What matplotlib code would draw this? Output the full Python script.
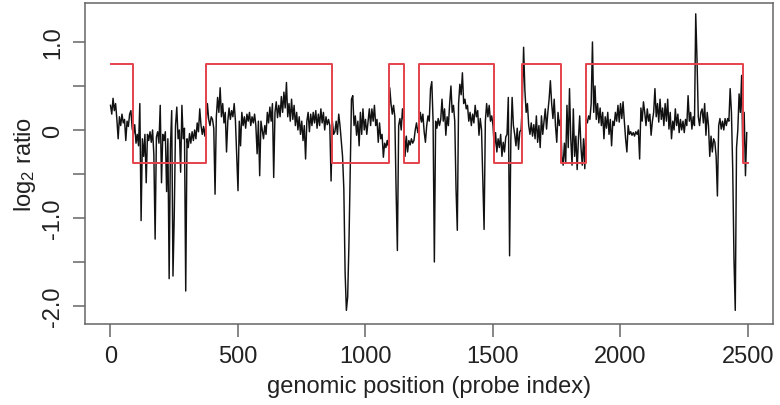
import numpy as np
import matplotlib
matplotlib.use("Agg")
import matplotlib.pyplot as plt

plt.rcParams["font.family"] = ["Liberation Sans", "DejaVu Sans"]
plt.rcParams["mathtext.default"] = "regular"

# log2 ratio per probe, sampled every 5 probes (probe 1, 6, 11, ...)
log2_ratio = [
    0.28, 0.18, 0.36, 0.22, 0.30, 0.12, -0.10, 0.15, 0.05, 0.18, 0.08, 0.12, -0.12, 0.10, 0.04, 0.18, 0.22, 0.02, -0.05, 0.06,
    -0.15, -0.05, -0.18, 0.30, -1.03, -0.10, -0.30, -0.05, -0.60, -0.05, -0.12, -0.02, -0.14, 0.00, -0.28, -1.24, -0.08, -0.02, -0.15, 0.28,
    -0.60, -0.05, -0.12, -0.02, -0.70, -0.10, -1.69, -0.20, 0.22, -1.66, -0.97, 0.05, 0.26, -0.10, 0.00, -0.48, 0.28, -0.10, 0.02, -1.83,
    -0.10, -0.20, -0.04, -0.15, -0.02, -0.12, 0.00, -0.10, 0.08, -0.02, 0.24, 0.05, -0.05, 0.04, -0.07, 0.08, 0.30, 0.12, 0.05, 0.15,
    0.12, 0.02, -0.73, 0.15, 0.37, 0.20, 0.48, 0.15, 0.30, 0.08, 0.20, -0.25, 0.10, 0.25, 0.12, 0.22, 0.15, 0.30, 0.10, -0.30,
    -0.69, 0.10, -0.18, 0.20, 0.05, 0.15, 0.02, 0.18, 0.10, 0.20, 0.05, 0.15, 0.08, 0.18, 0.05, -0.27, 0.10, -0.52, 0.10, 0.00,
    -0.10, 0.05, -0.05, 0.20, 0.08, 0.26, 0.10, 0.30, -0.54, 0.20, 0.32, 0.14, 0.28, 0.15, 0.38, 0.20, 0.43, 0.25, 0.54, 0.15,
    0.30, 0.10, 0.35, 0.12, 0.28, 0.05, 0.20, 0.00, 0.15, -0.05, 0.10, -0.12, 0.05, -0.33, 0.10, 0.20, -0.02, 0.18, 0.05, 0.20,
    0.08, 0.22, 0.02, 0.18, 0.05, 0.24, 0.08, 0.20, 0.00, 0.15, 0.06, 0.12, 0.05, -0.58, 0.10, -0.05, -0.02, 0.10, -0.05, 0.18,
    0.05, -0.12, -0.30, -0.67, -1.62, -2.05, -1.90, -1.30, -0.45, 0.35, 0.39, 0.05, 0.16, -0.06, 0.10, -0.18, 0.20, -0.05, 0.24, 0.00,
    0.12, -0.05, 0.10, 0.24, 0.05, 0.24, 0.10, 0.28, 0.05, 0.12, -0.14, 0.08, -0.10, -0.05, -0.31, -0.15, -0.20, -0.12, -0.18, 0.48,
    0.30, 0.18, 0.28, 0.15, -0.69, -1.37, 0.05, 0.13, 0.00, 0.24, 0.10, -0.30, -0.07, -0.25, -0.12, -0.17, -0.10, -0.15, -0.12, 0.00,
    0.08, -0.03, 0.05, 0.20, 0.09, 0.18, -0.02, -0.14, 0.05, 0.16, 0.10, 0.47, 0.55, 0.10, -1.50, 0.10, 0.02, 0.13, 0.05, 0.12,
    0.35, 0.10, 0.24, -0.06, 0.15, 0.05, 0.30, 0.50, 0.20, 0.28, 0.10, -0.67, -1.14, 0.30, 0.52, 0.40, 0.65, 0.30, 0.35, 0.24,
    0.28, 0.10, 0.20, 0.05, 0.18, 0.08, 0.28, 0.15, 0.22, -0.06, 0.13, 0.00, -0.56, -1.13, 0.10, 0.30, 0.15, 0.28, 0.10, 0.16,
    0.05, -0.20, -0.03, -0.25, -0.10, -0.20, -0.05, -0.30, -0.14, -0.25, -0.08, -0.05, 0.37, -1.43, -0.10, 0.37, 0.05, -0.05, -0.18, 0.02,
    -0.22, -0.02, 0.00, 0.30, 0.94, 0.45, 0.20, 0.30, 0.05, -0.05, 0.08, -0.07, 0.06, -0.10, 0.16, -0.14, 0.05, -0.20, 0.16, -0.05,
    0.10, 0.24, 0.01, 0.20, 0.35, 0.56, 0.30, 0.13, 0.35, 0.05, -0.14, 0.20, 0.05, 0.12, -0.30, -0.40, -0.15, -0.38, 0.28, -0.20,
    0.47, -0.10, -0.40, 0.24, -0.30, -0.07, -0.45, -0.10, 0.16, -0.20, -0.40, -0.10, -0.44, 0.13, 0.08, 0.16, 0.12, 0.30, 1.00, 0.20,
    0.50, 0.12, 0.30, 0.08, 0.25, 0.05, 0.20, -0.10, 0.15, 0.02, 0.20, -0.05, 0.12, -0.18, 0.10, 0.05, 0.20, 0.10, 0.28, 0.09,
    0.30, 0.13, 0.32, 0.10, -0.10, -0.25, 0.05, -0.05, -0.02, -0.06, -0.03, -0.07, -0.02, -0.05, 0.00, -0.33, 0.25, 0.10, 0.32, 0.20,
    0.05, 0.24, 0.10, 0.18, -0.06, 0.10, 0.20, 0.47, 0.15, 0.30, 0.09, 0.35, 0.12, 0.25, 0.05, 0.30, 0.10, 0.35, 0.01, 0.20,
    -0.10, 0.10, 0.00, 0.24, 0.05, 0.18, -0.03, 0.12, 0.00, 0.10, -0.03, 0.12, 0.05, 0.39, 0.10, 0.20, 0.01, 0.15, 0.05, 1.32,
    0.80, 0.15, 0.05, 0.20, 0.24, 0.08, 0.30, -0.06, 0.20, 0.05, -0.30, -0.07, -0.25, -0.10, -0.14, -0.30, -0.75, 0.05, 0.13, 0.01,
    0.10, 0.00, 0.13, 0.05, 0.13, 0.10, 0.47, 0.20, -0.44, -1.47, -2.05, -0.20, 0.00, 0.41, 0.20, 0.62, -0.35, 0.20, -0.52, -0.03,
]
probe_index = np.arange(1, 2501, 5)

# segmentation: breakpoints (probe index) and segment levels
seg_breaks = [1, 88, 375, 869, 1092, 1153, 1209, 1506, 1613, 1766, 1864, 2482, 2500]
seg_levels = [0.75, -0.375, 0.75, -0.375, 0.75, -0.375, 0.75, -0.375, 0.75, -0.375, 0.75, -0.375]

x_ticks = [0, 500, 1000, 1500, 2000, 2500]
y_ticks = [-2.0, -1.5, -1.0, -0.5, 0.0, 0.5, 1.0]
y_tick_labels = ["-2.0", "", "-1.0", "", "0", "", "1.0"]

W, H = 780, 406
fig = plt.figure(figsize=(W / 100, H / 100), dpi=100)
left, right, top, bottom = 85, 773, 4, 325
ax = fig.add_axes([left / W, 1 - bottom / H, (right - left) / W, (bottom - top) / H])

ax.plot(probe_index, log2_ratio, color="#111111", lw=1.05, zorder=2)
ax.step(seg_breaks, seg_levels + [seg_levels[-1]], where="post",
        color="#e5424c", lw=1.4, zorder=3)

ax.set_xlim(-99, 2599)
ax.set_ylim(-2.205, 1.443)

frame_col = "#666666"
for sp in ax.spines.values():
    sp.set_color(frame_col)
    sp.set_linewidth(1.1)

ax.set_xticks(x_ticks)
ax.set_xticklabels([str(t) for t in x_ticks])
ax.set_yticks(y_ticks)
ax.set_yticklabels(y_tick_labels, rotation=90, va="center")
ax.tick_params(axis="both", direction="out", length=9, width=1.1,
               color=frame_col, labelsize=17, labelcolor="#222222")
ax.tick_params(axis="x", pad=6)
ax.tick_params(axis="y", pad=6)

ax.set_xlabel("genomic position (probe index)", fontsize=17, color="#222222", labelpad=6)
ax.set_ylabel(r"log$_2$ ratio", fontsize=17, color="#222222", labelpad=3)

fig.savefig("out.png", dpi=100)
